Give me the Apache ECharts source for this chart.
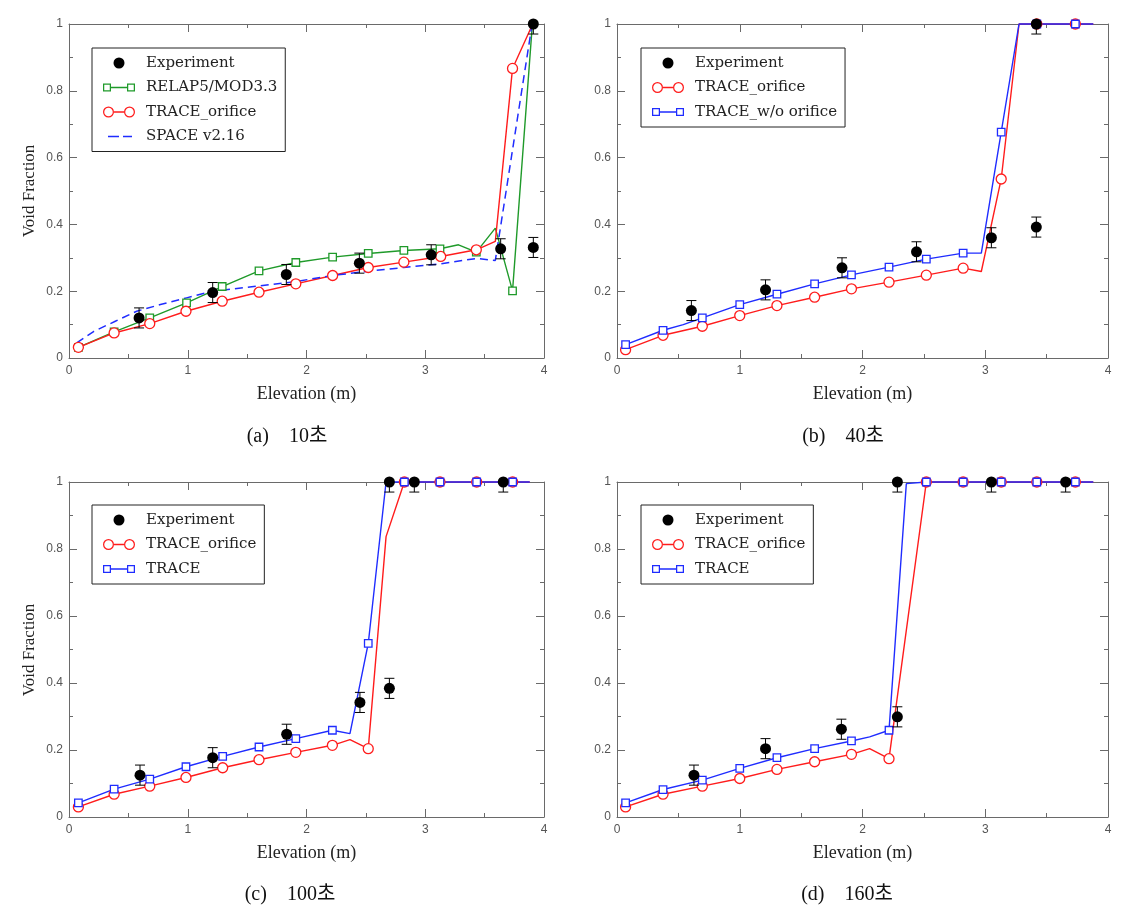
<!DOCTYPE html>
<html><head><meta charset="utf-8">
<script src="https://cdn.jsdelivr.net/npm/echarts@6/dist/echarts.min.js"></script>
<style>html,body{margin:0;padding:0;background:#fff}#chart{width:1139px;height:916px}</style>
</head><body><div id="chart"></div>
<script>
// ---------- axis ticks ----------
const xTicks = [0, 1, 2, 3, 4];
const yTicks = [0, 0.2, 0.4, 0.6, 0.8, 1];

// ---------- captions / titles ----------
const captions = ['(a)    10초', '(b)    40초', '(c)    100초', '(d)    160초'];
const xTitle = 'Elevation (m)';
const yTitle = 'Void Fraction';

// ---------- panel (a) 10 s ----------
const a_exp_x = [0.59, 1.21, 1.83, 2.445, 3.05, 3.635, 3.91, 3.91];
const a_exp_y = [0.12, 0.196, 0.25, 0.284, 0.309, 0.327, 1.0, 0.331];
const a_exp_err = [0.03, 0.03, 0.03, 0.03, 0.03, 0.03, 0.03, 0.03];

const a_relap_x = [0.079, 0.38, 0.68, 0.99, 1.29, 1.6, 1.91, 2.22, 2.52, 2.82, 3.124, 3.28, 3.43, 3.59, 3.735, 3.9];
const a_relap_y = [0.032, 0.078, 0.12, 0.165, 0.214, 0.261, 0.286, 0.302, 0.313, 0.322, 0.327, 0.339, 0.317, 0.389, 0.201, 0.99];
const a_relap_node = [1, 1, 1, 1, 1, 1, 1, 1, 1, 1, 1, 0, 1, 0, 1, 0];

const a_trace_x = [0.079, 0.38, 0.68, 0.985, 1.29, 1.6, 1.91, 2.22, 2.52, 2.82, 3.13, 3.43, 3.59, 3.735, 3.905];
const a_trace_y = [0.032, 0.075, 0.103, 0.14, 0.17, 0.197, 0.222, 0.247, 0.271, 0.287, 0.304, 0.324, 0.349, 0.867, 1.0];
const a_trace_node = [1, 1, 1, 1, 1, 1, 1, 1, 1, 1, 1, 1, 0, 1, 0];

const a_space_x = [0.065, 0.21, 0.39, 0.57, 0.77, 0.99, 1.21, 1.61, 1.91, 2.22, 2.52, 2.82, 3.13, 3.43, 3.59, 3.9];
const a_space_y = [0.045, 0.08, 0.11, 0.14, 0.16, 0.18, 0.2, 0.216, 0.229, 0.247, 0.26, 0.271, 0.282, 0.298, 0.292, 1.0];

// ---------- panel (b) 40 s ----------
const b_exp_x = [0.606, 1.21, 1.833, 2.44, 3.05, 3.416, 3.416];
const b_exp_y = [0.142, 0.204, 0.27, 0.318, 0.36, 1.0, 0.392];
const b_exp_err = [0.03, 0.03, 0.03, 0.03, 0.03, 0.03, 0.03];

const b_orif_x = [0.07, 0.375, 0.695, 1.0, 1.303, 1.61, 1.91, 2.216, 2.52, 2.82, 2.968, 3.13, 3.275, 3.42, 3.734, 3.88];
const b_orif_y = [0.025, 0.068, 0.095, 0.127, 0.157, 0.182, 0.207, 0.227, 0.248, 0.269, 0.259, 0.536, 1.0, 1.0, 1.0, 1.0];
const b_orif_node = [1, 1, 1, 1, 1, 1, 1, 1, 1, 1, 0, 1, 0, 1, 1, 0];

const b_wo_x = [0.07, 0.375, 0.54, 0.695, 1.0, 1.303, 1.61, 1.91, 2.216, 2.52, 2.82, 2.968, 3.13, 3.275, 3.42, 3.734, 3.88];
const b_wo_y = [0.04, 0.083, 0.1, 0.12, 0.16, 0.191, 0.222, 0.249, 0.272, 0.296, 0.314, 0.314, 0.676, 1.0, 1.0, 1.0, 1.0];
const b_wo_node = [1, 1, 0, 1, 1, 1, 1, 1, 1, 1, 1, 0, 1, 0, 1, 1, 0];

// ---------- panel (c) 100 s ----------
const c_exp_x = [0.598, 1.21, 1.833, 2.45, 2.698, 2.698, 2.908, 3.657];
const c_exp_y = [0.125, 0.177, 0.247, 0.342, 1.0, 0.384, 1.0, 1.0];
const c_exp_err = [0.03, 0.03, 0.03, 0.03, 0.03, 0.03, 0.03, 0.03];

const c_orif_x = [0.079, 0.38, 0.68, 0.985, 1.294, 1.6, 1.91, 2.218, 2.366, 2.52, 2.67, 2.824, 3.124, 3.433, 3.736, 3.88];
const c_orif_y = [0.03, 0.068, 0.092, 0.118, 0.147, 0.171, 0.193, 0.214, 0.231, 0.204, 0.837, 1.0, 1.0, 1.0, 1.0, 1.0];
const c_orif_node = [1, 1, 1, 1, 1, 1, 1, 1, 0, 1, 0, 1, 1, 1, 1, 0];

const c_trace_x = [0.079, 0.38, 0.68, 0.985, 1.294, 1.6, 1.91, 2.218, 2.366, 2.52, 2.67, 2.824, 3.124, 3.433, 3.736, 3.88];
const c_trace_y = [0.042, 0.083, 0.113, 0.15, 0.181, 0.209, 0.234, 0.259, 0.249, 0.518, 1.0, 1.0, 1.0, 1.0, 1.0, 1.0];
const c_trace_node = [1, 1, 1, 1, 1, 1, 1, 1, 0, 1, 0, 1, 1, 1, 1, 0];

// ---------- panel (d) 160 s ----------
const d_exp_x = [0.627, 1.21, 1.828, 2.284, 2.284, 3.05, 3.655];
const d_exp_y = [0.125, 0.204, 0.262, 0.299, 1.0, 1.0, 1.0];
const d_exp_err = [0.03, 0.03, 0.03, 0.03, 0.03, 0.03, 0.03];

const d_orif_x = [0.07, 0.375, 0.695, 1.0, 1.303, 1.61, 1.91, 2.058, 2.216, 2.52, 2.82, 3.13, 3.42, 3.734, 3.88];
const d_orif_y = [0.03, 0.068, 0.092, 0.115, 0.142, 0.165, 0.187, 0.204, 0.174, 1.0, 1.0, 1.0, 1.0, 1.0, 1.0];
const d_orif_node = [1, 1, 1, 1, 1, 1, 1, 0, 1, 1, 1, 1, 1, 1, 0];

const d_trace_x = [0.07, 0.375, 0.695, 1.0, 1.303, 1.61, 1.91, 2.058, 2.216, 2.357, 2.52, 2.82, 3.13, 3.42, 3.734, 3.88];
const d_trace_y = [0.042, 0.082, 0.11, 0.145, 0.177, 0.204, 0.227, 0.239, 0.259, 0.995, 1.0, 1.0, 1.0, 1.0, 1.0, 1.0];
const d_trace_node = [1, 1, 1, 1, 1, 1, 1, 0, 1, 0, 1, 1, 1, 1, 1, 0];

// ---------- styling ----------
const RED = '#ff1c1c', BLUE = '#1f2cff', GREEN = '#1f9a2a', BLACK = '#000000';
const AXC = '#6a6a6a';
const LABEL_FONT = 'Liberation Sans';
const TITLE_FONT = 'Liberation Serif';
const LEGEND_FONT = 'DejaVu Serif';

const RING_ICON = 'path://M0 5.5A5.5 5.5 0 1 0 11 5.5A5.5 5.5 0 1 0 0 5.5Z M1.25 5.5A4.25 4.25 0 1 1 9.75 5.5A4.25 4.25 0 1 1 1.25 5.5Z M21 5.5A5.5 5.5 0 1 0 32 5.5A5.5 5.5 0 1 0 21 5.5Z M22.25 5.5A4.25 4.25 0 1 1 30.75 5.5A4.25 4.25 0 1 1 22.25 5.5Z M11 4.85H21V6.15H11Z';
const SQ_ICON = 'path://M0 0H8V8H0Z M1.25 1.25V6.75H6.75V1.25Z M24 0H32V8H24Z M25.25 1.25V6.75H30.75V1.25Z M8 3.35H24V4.65H8Z';
const DASH_ICON = 'path://M0 0.7H0.01V0.71H0Z M5 0H16V1.6H5Z M20 0H29V1.6H20Z M31.99 0.7H32V0.71H31.99Z';

const grids = [
  { left: 69, top: 24, width: 475, height: 334 },
  { left: 617, top: 24, width: 491, height: 334 },
  { left: 69, top: 482, width: 475, height: 335 },
  { left: 617, top: 482, width: 491, height: 335 }
];

function xAxis(gi, pos) {
  return {
    gridIndex: gi, type: 'value', position: pos,
    min: xTicks[0], max: xTicks[xTicks.length - 1], interval: xTicks[1] - xTicks[0],
    axisLine: { show: true, onZero: false, lineStyle: { color: AXC, width: 1 } },
    axisTick: { show: true, inside: true, length: 8, lineStyle: { color: AXC, width: 1 } },
    minorTick: { show: true, splitNumber: 2, length: 4, lineStyle: { color: AXC, width: 1 } },
    splitLine: { show: false }, minorSplitLine: { show: false },
    axisLabel: { show: pos === 'bottom', fontFamily: LABEL_FONT, fontSize: 12, color: '#555', margin: 7 },
    name: pos === 'bottom' ? xTitle : '', nameLocation: 'middle', nameGap: 27,
    nameTextStyle: { fontFamily: TITLE_FONT, fontSize: 18, color: '#222' },
    silent: true
  };
}
function yAxis(gi, pos) {
  return {
    gridIndex: gi, type: 'value', position: pos,
    min: yTicks[0], max: yTicks[yTicks.length - 1], interval: yTicks[1] - yTicks[0],
    axisLine: { show: true, onZero: false, lineStyle: { color: AXC, width: 1 } },
    axisTick: { show: true, inside: true, length: 8, lineStyle: { color: AXC, width: 1 } },
    minorTick: { show: true, splitNumber: 2, length: 4, lineStyle: { color: AXC, width: 1 } },
    splitLine: { show: false }, minorSplitLine: { show: false },
    axisLabel: { show: pos === 'left', fontFamily: LABEL_FONT, fontSize: 12, color: '#555', margin: 6 },
    silent: true
  };
}

function errRender(params, api) {
  const x = api.value(0), y = api.value(1), e = api.value(2);
  const c = api.coord([x, y]);
  const t = api.coord([x, y + e]);
  const b = api.coord([x, y - e]);
  const cs = params.coordSys;
  const yTop = cs.y, yBot = cs.y + cs.height;
  const top = Math.max(t[1], yTop), bot = Math.min(b[1], yBot);
  const hw = 5;
  const st = { stroke: '#000', lineWidth: 1 };
  const ch = [{ type: 'line', shape: { x1: c[0], y1: top, x2: c[0], y2: bot }, style: st }];
  if (t[1] >= yTop - 0.5) ch.push({ type: 'line', shape: { x1: c[0] - hw, y1: t[1], x2: c[0] + hw, y2: t[1] }, style: st });
  if (b[1] <= yBot + 0.5) ch.push({ type: 'line', shape: { x1: c[0] - hw, y1: b[1], x2: c[0] + hw, y2: b[1] }, style: st });
  return { type: 'group', children: ch };
}

function expSeries(gi, xs, ys, errs) {
  return [
    {
      type: 'custom', name: 'errbar' + gi, xAxisIndex: gi * 2, yAxisIndex: gi * 2,
      data: xs.map((x, i) => [x, ys[i], errs[i]]), renderItem: errRender, z: 4, silent: true, clip: false
    },
    {
      type: 'scatter', name: 'Experiment', xAxisIndex: gi * 2, yAxisIndex: gi * 2,
      data: xs.map((x, i) => [x, ys[i]]), symbol: 'circle', symbolSize: 11,
      itemStyle: { color: BLACK, opacity: 1 }, z: 5, silent: true, clip: false
    }
  ];
}

function lineSeries(name, gi, xs, ys, nodes, color, symbol) {
  return {
    type: 'line', name: name, xAxisIndex: gi * 2, yAxisIndex: gi * 2,
    data: xs.map((x, i) => ({ value: [x, ys[i]], symbol: nodes[i] ? symbol : 'none' })),
    symbol: symbol, symbolSize: symbol === 'circle' ? 10 : 7.5,
    lineStyle: { color: color, width: 1.4 },
    itemStyle: { color: '#fff', borderColor: color, borderWidth: 1.3 },
    emphasis: { disabled: true }, silent: true, clip: false, z: 2
  };
}

function legend(left, top, items) {
  return {
    show: true, orient: 'vertical', left: left, top: top,
    padding: [7, 8, 7, 11], borderColor: '#222', borderWidth: 1, backgroundColor: '#fff',
    itemWidth: 32, itemHeight: 11, itemGap: 8.5, selectedMode: false,
    itemStyle: { borderWidth: 0 },
    textStyle: { fontFamily: LEGEND_FONT, fontSize: 15, color: '#222', lineHeight: 16, padding: [0, 0, 0, 6] },
    data: items
  };
}
const L_EXP = { name: 'Experiment', icon: 'circle', itemStyle: { color: BLACK, opacity: 1 } };
const L_ORIF = { name: 'TRACE_orifice', icon: RING_ICON, itemStyle: { color: RED } };

const series = [].concat(
  // (a)
  [lineSeries('RELAP5/MOD3.3', 0, a_relap_x, a_relap_y, a_relap_node, GREEN, 'rect')],
  [lineSeries('TRACE_orifice', 0, a_trace_x, a_trace_y, a_trace_node, RED, 'circle')],
  [{
    type: 'line', name: 'SPACE v2.16', xAxisIndex: 0, yAxisIndex: 0,
    data: a_space_x.map((x, i) => [x, a_space_y[i]]), symbol: 'none', showSymbol: false,
    lineStyle: { color: BLUE, width: 1.5, type: [8, 5] }, itemStyle: { color: BLUE },
    emphasis: { disabled: true }, silent: true, clip: false, z: 2
  }],
  expSeries(0, a_exp_x, a_exp_y, a_exp_err),
  // (b)
  [lineSeries('TRACE_orifice', 1, b_orif_x, b_orif_y, b_orif_node, RED, 'circle')],
  [lineSeries('TRACE_w/o orifice', 1, b_wo_x, b_wo_y, b_wo_node, BLUE, 'rect')],
  expSeries(1, b_exp_x, b_exp_y, b_exp_err),
  // (c)
  [lineSeries('TRACE_orifice', 2, c_orif_x, c_orif_y, c_orif_node, RED, 'circle')],
  [lineSeries('TRACE', 2, c_trace_x, c_trace_y, c_trace_node, BLUE, 'rect')],
  expSeries(2, c_exp_x, c_exp_y, c_exp_err),
  // (d)
  [lineSeries('TRACE_orifice', 3, d_orif_x, d_orif_y, d_orif_node, RED, 'circle')],
  [lineSeries('TRACE', 3, d_trace_x, d_trace_y, d_trace_node, BLUE, 'rect')],
  expSeries(3, d_exp_x, d_exp_y, d_exp_err)
);

const xAxes = [], yAxes = [];
for (let g = 0; g < 4; g++) {
  xAxes.push(xAxis(g, 'bottom'), xAxis(g, 'top'));
  yAxes.push(yAxis(g, 'left'), yAxis(g, 'right'));
}

const capPos = [[287, 437], [843, 437], [290, 895], [847, 895]];
const graphics = captions.map((t, i) => ({
  type: 'text', x: capPos[i][0], y: capPos[i][1], silent: true,
  style: { text: t, fontFamily: TITLE_FONT + ', "Noto Sans CJK KR"', fontSize: 20, fill: '#111', align: 'center', verticalAlign: 'middle' }
}));
[[30, 191], [30, 650]].forEach(p => graphics.push({
  type: 'text', x: p[0], y: p[1], rotation: Math.PI / 2, silent: true,
  style: { text: yTitle, fontFamily: TITLE_FONT, fontSize: 17, fill: '#222', align: 'center', verticalAlign: 'middle' }
}));

const chart = echarts.init(document.getElementById('chart'), null, { renderer: 'canvas' });
chart.setOption({
  animation: false,
  backgroundColor: '#fff',
  grid: grids.map(g => Object.assign({ containLabel: false, outerBoundsMode: 'none' }, g)),
  xAxis: xAxes,
  yAxis: yAxes,
  legend: [
    legend(92, 48, [L_EXP, { name: 'RELAP5/MOD3.3', icon: SQ_ICON, itemStyle: { color: GREEN } }, L_ORIF, { name: 'SPACE v2.16', icon: DASH_ICON, itemStyle: { color: BLUE } }]),
    legend(641, 48, [L_EXP, L_ORIF, { name: 'TRACE_w/o orifice', icon: SQ_ICON, itemStyle: { color: BLUE } }]),
    legend(92, 505, [L_EXP, L_ORIF, { name: 'TRACE', icon: SQ_ICON, itemStyle: { color: BLUE } }]),
    legend(641, 505, [L_EXP, L_ORIF, { name: 'TRACE', icon: SQ_ICON, itemStyle: { color: BLUE } }])
  ],
  graphic: graphics,
  series: series
});
</script>
</body></html>
